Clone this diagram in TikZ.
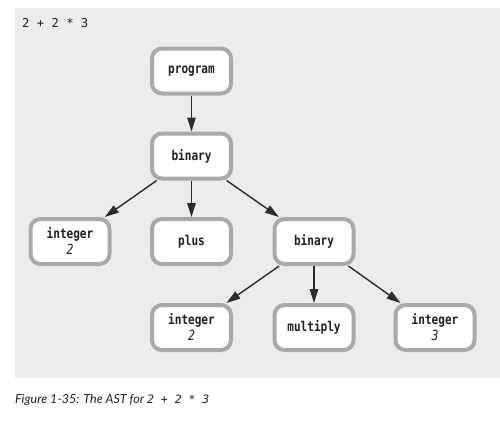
\documentclass[tikz,border=0pt]{standalone}
\usepackage{fontspec}
\usetikzlibrary{arrows.meta}
\newfontfamily\nodefont[FakeStretch=0.82]{DejaVu Sans Mono}
\newfontfamily\codefont{DejaVu Sans Mono}
\newfontfamily\capfont{Lato}
\definecolor{bggray}{HTML}{EBECEC}
\definecolor{bordgray}{HTML}{A7A9AC}
\definecolor{ink}{HTML}{231F20}
\definecolor{arrowink}{HTML}{2B2B30}
\tikzset{
  astnode/.style={draw=bordgray, line width=4pt, fill=white, rounded corners=10pt,
    minimum width=79pt, minimum height=45pt, inner sep=0pt, align=center,
    font=\nodefont\fontsize{13.5}{16}\selectfont\bfseries, text=ink},
  edge/.style={draw=arrowink, line width=1.4pt, -{Triangle[length=14pt,width=8.5pt]}},
}
\newcommand{\val}[1]{{\mdseries\itshape\fontsize{14}{16}\selectfont #1}}
\begin{document}
\begin{tikzpicture}[x=1pt,y=-1pt]
\useasboundingbox (0,0) rectangle (500,423);
\fill[bggray] (15,8) rectangle (500,378);
\node[anchor=west, inner sep=0pt, font=\codefont\fontsize{12.2}{14}\selectfont, text=ink] (expr) at (22,23) {2 + 2 * 3};
\node[astnode] (prog) at (191.5,71) {program};
\node[astnode] (bin1) at (191.5,156) {binary};
\node[astnode] (int1) at (70,241.5) {integer\\\val{2}};
\node[astnode] (plus) at (191.5,241.5) {plus};
\node[astnode] (bin2) at (314,241.5) {binary};
\node[astnode] (int2) at (191.5,327.5) {integer\\\val{2}};
\node[astnode] (mult) at (314,327.5) {multiply};
\node[astnode] (int3) at (435,327.5) {integer\\\val{3}};
\draw[edge] (prog) -- (bin1);
\draw[edge] (bin1) -- (int1);
\draw[edge] (bin1) -- (plus);
\draw[edge] (bin1) -- (bin2);
\draw[edge] (bin2) -- (int2);
\draw[edge] (bin2) -- (mult);
\draw[edge] (bin2) -- (int3);
\node[anchor=west, inner sep=0pt, text=ink] (cap) at (15,400) {\capfont\itshape\fontsize{12.5}{14}\selectfont Figure 1-35: The AST for \codefont\itshape\fontsize{11.5}{12}\selectfont 2 + 2 * 3};
\end{tikzpicture}
\end{document}
